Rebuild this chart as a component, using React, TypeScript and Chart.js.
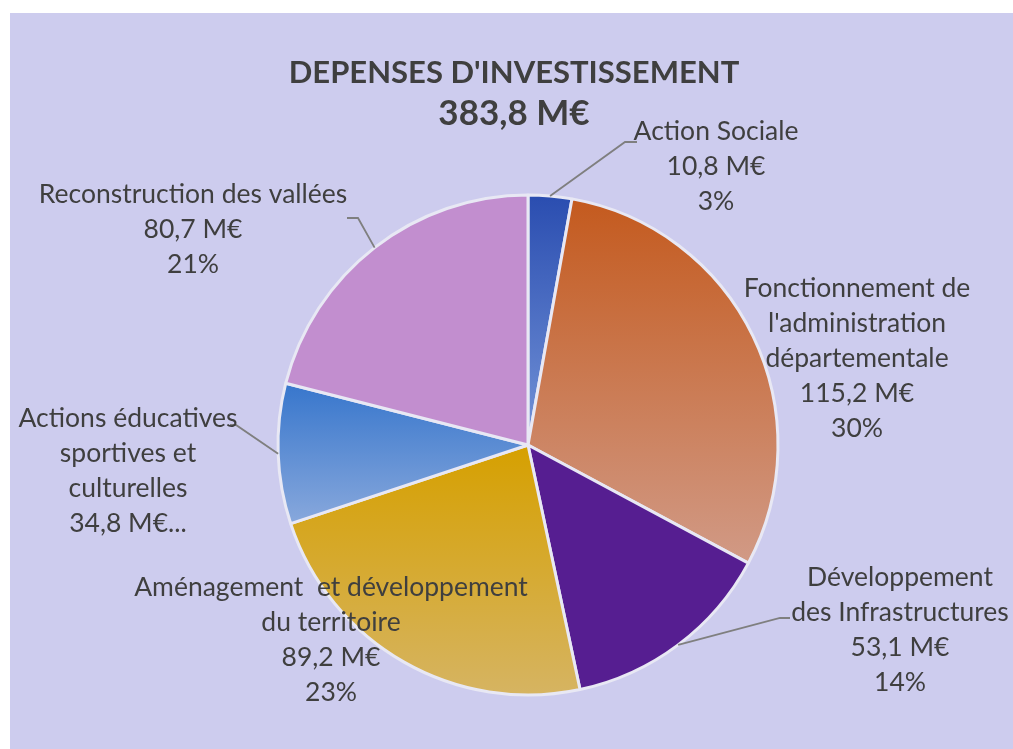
import React, { useEffect, useRef } from "react";
import { Chart, registerables } from "chart.js";

Chart.register(...registerables);

// ---- data ----
const categories = [
  "Action Sociale",
  "Fonctionnement de l'administration départementale",
  "Développement des Infrastructures",
  "Aménagement et développement du territoire",
  "Actions éducatives sportives et culturelles",
  "Reconstruction des vallées",
];
const values = [10.8, 115.2, 53.1, 89.2, 34.8, 80.7];
const labelLines = [
  ["Action Sociale", "10,8 M€", "3%"],
  ["Fonctionnement de", "l'administration", "départementale", "115,2 M€", "30%"],
  ["Développement", "des Infrastructures", "53,1 M€", "14%"],
  ["Aménagement  et développement", "du territoire", "89,2 M€", "23%"],
  ["Actions éducatives", "sportives et", "culturelles", "34,8 M€..."],
  ["Reconstruction des vallées", "80,7 M€", "21%"],
];
const titleText = "DEPENSES D'INVESTISSEMENT";
const subtitleText = "383,8 M€";

// ---- styles ----
const gradTop = ["#2a4db0", "#c45a1e", "#561e91", "#d6a000", "#3776cc", "#c28ecf"];
const gradBottom = ["#7494d8", "#d19a86", "#561e91", "#d6b462", "#88a8dc", "#c28ecf"];
const FONT = "Lato, 'Open Sans', sans-serif";
const TEXT_COLOR = "#3f3f3f";
const RADIUS = 250;
// label layout: centre x, first-line centre y, and optional leader elbow points
const labelLayout = [
  { x: 716, y: 131, leader: [[625, 142], [637, 142]] },
  { x: 857, y: 288, leader: null },
  { x: 900, y: 577, leader: [[780, 618], [790, 618]] },
  { x: 331, y: 587, leader: null },
  { x: 128, y: 418, leader: [[236, 425], [230, 425]] },
  { x: 193, y: 194, leader: [[358, 218], [347, 218]] },
];
const LINE_H = 35;

function sliceGradient(ctx: any) {
  const i = ctx.dataIndex;
  const chart = ctx.chart;
  const area = chart.chartArea;
  if (i === undefined || !area) return gradTop[0];
  const cx = (area.left + area.right) / 2;
  const cy = (area.top + area.bottom) / 2;
  const total = values.reduce((a, b) => a + b, 0);
  let cum = 0;
  for (let k = 0; k < i; k++) cum += values[k];
  const a0 = -Math.PI / 2 + (cum / total) * Math.PI * 2;
  const a1 = -Math.PI / 2 + ((cum + values[i]) / total) * Math.PI * 2;
  const ys = [cy, cy + Math.sin(a0) * RADIUS, cy + Math.sin(a1) * RADIUS];
  for (let k = -4; k <= 4; k++) {
    const a = (k * Math.PI) / 2;
    if (a > a0 && a < a1) ys.push(cy + Math.sin(a) * RADIUS);
  }
  const minY = Math.min(...ys);
  const maxY = Math.max(...ys);
  const g = chart.ctx.createLinearGradient(0, minY, 0, maxY);
  g.addColorStop(0, gradTop[i]);
  g.addColorStop(1, gradBottom[i]);
  return g;
}

const backgroundPlugin = {
  id: "panelBg",
  beforeDraw(chart: any) {
    const c = chart.ctx;
    c.save();
    c.fillStyle = "#ffffff";
    c.fillRect(0, 0, chart.width, chart.height);
    c.fillStyle = "#cdccee";
    c.fillRect(10, 13, chart.width - 10, chart.height - 13);
    c.restore();
  },
};

const labelsPlugin = {
  id: "pieLabels",
  afterDatasetsDraw(chart: any) {
    const c = chart.ctx;
    const meta = chart.getDatasetMeta(0);
    c.save();
    // title
    c.fillStyle = TEXT_COLOR;
    c.textAlign = "center";
    c.textBaseline = "middle";
    c.font = `bold 31px ${FONT}`;
    c.fillText(titleText, 514, 73);
    c.font = `bold 35px ${FONT}`;
    c.fillText(subtitleText, 514, 114);
    // leaders
    c.strokeStyle = "#7f7f7f";
    c.lineWidth = 1.8;
    meta.data.forEach((arc: any, i: number) => {
      const lay = labelLayout[i];
      if (!lay.leader) return;
      const p = arc.getProps(["x", "y", "startAngle", "endAngle", "outerRadius"], true);
      const mid = (p.startAngle + p.endAngle) / 2;
      const sx = p.x + Math.cos(mid) * p.outerRadius;
      const sy = p.y + Math.sin(mid) * p.outerRadius;
      c.beginPath();
      c.moveTo(sx, sy);
      lay.leader.forEach((pt: number[]) => c.lineTo(pt[0], pt[1]));
      c.stroke();
    });
    // labels
    c.font = `26.5px ${FONT}`;
    c.fillStyle = TEXT_COLOR;
    labelLines.forEach((lines, i) => {
      const lay = labelLayout[i];
      lines.forEach((t, j) => c.fillText(t, lay.x, lay.y + j * LINE_H));
    });
    c.restore();
  },
};

function PieChart() {
  const ref = useRef<HTMLCanvasElement | null>(null);
  useEffect(() => {
    if (!ref.current) return;
    const chart = new Chart(ref.current, {
      type: "pie",
      data: {
        labels: categories,
        datasets: [
          {
            data: values,
            backgroundColor: sliceGradient as any,
            borderColor: "#e8e8f4",
            borderWidth: 3,
          },
        ],
      },
      options: {
        responsive: false,
        animation: false,
        radius: RADIUS,
        layout: { padding: { left: 43, right: 0, top: 141, bottom: 0 } },
        plugins: {
          legend: { display: false },
          tooltip: { enabled: false },
          title: { display: false },
        },
      } as any,
      plugins: [backgroundPlugin, labelsPlugin],
    });
    return () => chart.destroy();
  }, []);
  return <canvas ref={ref} width={1013} height={749} style={{ display: "block", width: 1013, height: 749 }} />;
}

export default function App() {
  return (
    <div style={{ position: "fixed", left: 0, top: 0, width: 1013, height: 749, background: "#fff" }}>
      <PieChart />
    </div>
  );
}
